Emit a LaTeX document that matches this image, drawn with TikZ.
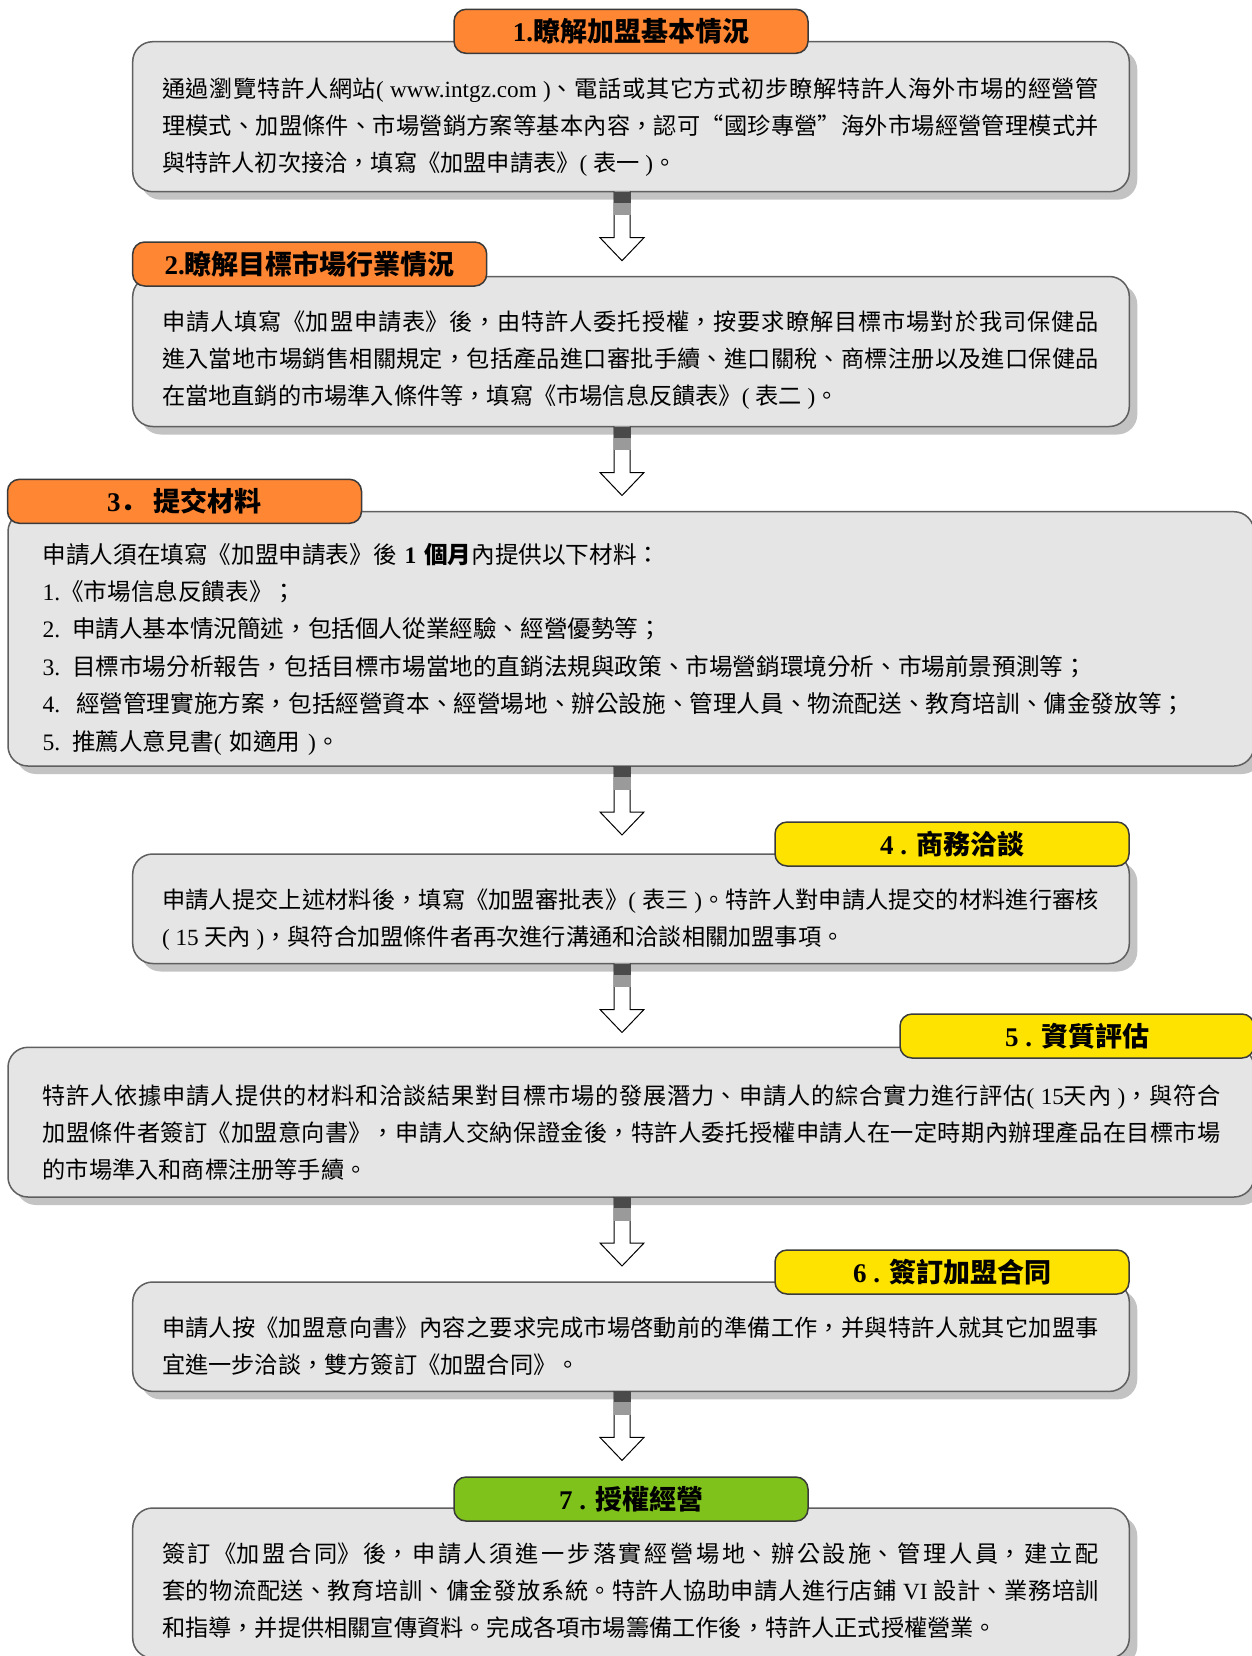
\documentclass[tikz,border=0pt]{standalone}
\usepackage{fontspec}
\setmainfont{Noto Sans CJK TC}
\newfontfamily\lat{Liberation Serif}
\newfontfamily\scfont{Noto Sans CJK SC}
\usepackage{tikz}
\usetikzlibrary{calc,shadows}
\XeTeXlinebreaklocale "zh"
\XeTeXlinebreakskip=0pt plus 2pt
\tolerance=9999

\definecolor{boxfill}{HTML}{E5E5E5}
\definecolor{boxline}{HTML}{5F5F5F}
\definecolor{shadowgray}{HTML}{C3C3C3}
\definecolor{headline}{HTML}{3A3A3A}
\definecolor{headorange}{HTML}{FF8633}
\definecolor{headyellow}{HTML}{FFE300}
\definecolor{headgreen}{HTML}{80C21C}
\definecolor{stemdark}{HTML}{4A4A4A}
\definecolor{stemgray}{HTML}{9A9A9A}

% hollow block arrow, #1 = top point
\newcommand{\flowarrow}[1]{%
  \begin{scope}[shift={(#1)}]
    \filldraw[fill=white,draw=black,line width=0.5pt] (-8,0) -- (-8,46) -- (-22,46) -- (0,69) -- (22,46) -- (8,46) -- (8,0);
    \fill[stemdark] (-8.5,0) rectangle (8.5,11);
    \fill[stemgray] (-8.5,11) rectangle (8.5,23.5);
  \end{scope}}
\newcommand{\lpar}{{\lat (\ }}
\newcommand{\rpar}{{\lat \ )}}

\begin{document}
\begin{tikzpicture}[x=0.5pt,y=-0.5pt,
    box/.style={draw=boxline,fill=boxfill,line width=0.75pt,rounded corners=10pt,inner sep=0pt,outer sep=0pt,
      drop shadow={shadow xshift=4pt,shadow yshift=-4pt,fill=shadowgray,opacity=1}},
    head/.style={draw=headline,line width=0.75pt,rounded corners=6pt,minimum width=177pt,minimum height=22pt,inner sep=0pt,
      font=\fontsize{13.5}{16}\selectfont\bfseries},
    txt/.style={anchor=base west,inner sep=0pt,align=justify,text width=468.5pt,font=\fontsize{11.6}{18.5}\selectfont},
    txtwide/.style={txt,text width=589pt}]
  \useasboundingbox (0,0) rectangle (1252,1656);
  \coordinate (ax) at (622,0);

  % step boxes
  \node[box,minimum width=498.3pt,minimum height=75pt] (b1) at (631,116.7) {};
  \node[box,minimum width=498.3pt,minimum height=75pt] (b2) at (631,351.5) {};
  \node[box,minimum width=623pt,minimum height=127.15pt] (b3) at (631,638.85) {};
  \node[box,minimum width=498.3pt,minimum height=54.75pt] (b4) at (631,908.75) {};
  \node[box,minimum width=623pt,minimum height=74.85pt] (b5) at (631,1122.15) {};
  \node[box,minimum width=498.3pt,minimum height=54.7pt] (b6) at (631,1336.7) {};
  \node[box,minimum width=498.3pt,minimum height=75pt] (b7) at (631,1583) {};

  % titles
  \node[head,fill=headorange] (h1) at (631,31.3) {{\lat 1.}瞭解加盟基本情況};
  \node[head,fill=headorange] (h2) at (309.7,264) {{\lat 2.}瞭解目標市場行業情況};
  \node[head,fill=headorange] (h3) at (184.5,501.3) {{\lat 3}{\scfont ．}\ 提交材料};
  \node[head,fill=headyellow] (h4) at (952,844) {{\lat 4 . }商務洽談};
  \node[head,fill=headyellow] (h5) at (1077,1036) {{\lat 5 . }資質評估};
  \node[head,fill=headyellow] (h6) at (952,1272) {{\lat 6 . }簽訂加盟合同};
  \node[head,fill=headgreen] (h7) at (631,1499) {{\lat 7 . }授權經營};

  % texts
  \node[txt] (t1) at (161.6,97) {通過瀏覽特許人網站\lpar{\lat www.intgz.com}\rpar、電話或其它方式初步瞭解特許人海外市場的經營管\linebreak
    理模式、加盟條件、市場營銷方案等基本內容，認可“國珍專營”海外市場經營管理模式并\linebreak
    與特許人初次接洽，填寫《加盟申請表》\lpar 表一\rpar 。};
  \node[txt] (t2) at (161.6,330.5) {申請人填寫《加盟申請表》後，由特許人委托授權，按要求瞭解目標市場對於我司保健品\linebreak
    進入當地市場銷售相關規定，包括產品進口審批手續、進口關稅、商標注册以及進口保健品\linebreak
    在當地直銷的市場準入條件等，填寫《市場信息反饋表》\lpar 表二\rpar 。};
  \node[txt,align=left,text width=600pt,font=\fontsize{11.8}{18.7}\selectfont] (t3) at (42.3,563) {%
    申請人須在填寫《加盟申請表》後{\bfseries\lat\ 1 }{\bfseries 個月}內提供以下材料：\\
    {\lat 1.}《市場信息反饋表》；\\
    {\lat 2. }申請人基本情況簡述，包括個人從業經驗、經營優勢等；\\
    {\lat 3. }目標市場分析報告，包括目標市場當地的直銷法規與政策、市場營銷環境分析、市場前景預測等；\\
    {\lat 4.\ \ }經營管理實施方案，包括經營資本、經營場地、辦公設施、管理人員、物流配送、教育培訓、傭金發放等；\\
    {\lat 5. }推薦人意見書\lpar 如適用\rpar 。};
  \node[txt] (t4) at (161.6,908.5) {申請人提交上述材料後，填寫《加盟審批表》\lpar 表三\rpar 。特許人對申請人提交的材料進行審核\linebreak
    \lpar{\lat 15 }天內\rpar ，與符合加盟條件者再次進行溝通和洽談相關加盟事項。};
  \node[txtwide] (t5) at (42.3,1104) {特許人依據申請人提供的材料和洽談結果對目標市場的發展潛力、申請人的綜合實力進行評估\lpar{\lat 15}天內\rpar ，與符合\linebreak
    加盟條件者簽訂《加盟意向書》，申請人交納保證金後，特許人委托授權申請人在一定時期內辦理產品在目標市場\linebreak
    的市場準入和商標注册等手續。};
  \node[txt] (t6) at (161.6,1336.5) {申請人按《加盟意向書》內容之要求完成市場啓動前的準備工作，并與特許人就其它加盟事\linebreak
    宜進一步洽談，雙方簽訂《加盟合同》。};
  \node[txt] (t7) at (161.6,1562.5) {簽訂《加盟合同》後，申請人須進一步落實經營場地、辦公設施、管理人員，建立配\linebreak
    套的物流配送、教育培訓、傭金發放系統。特許人協助申請人進行店鋪{\lat\ VI }設計、業務培訓\linebreak
    和指導，并提供相關宣傳資料。完成各項市場籌備工作後，特許人正式授權營業。};

  % arrows between steps
  \foreach \b in {b1,b2,b3,b4,b5,b6}
    \flowarrow{\b.south -| ax};
\end{tikzpicture}
\end{document}
